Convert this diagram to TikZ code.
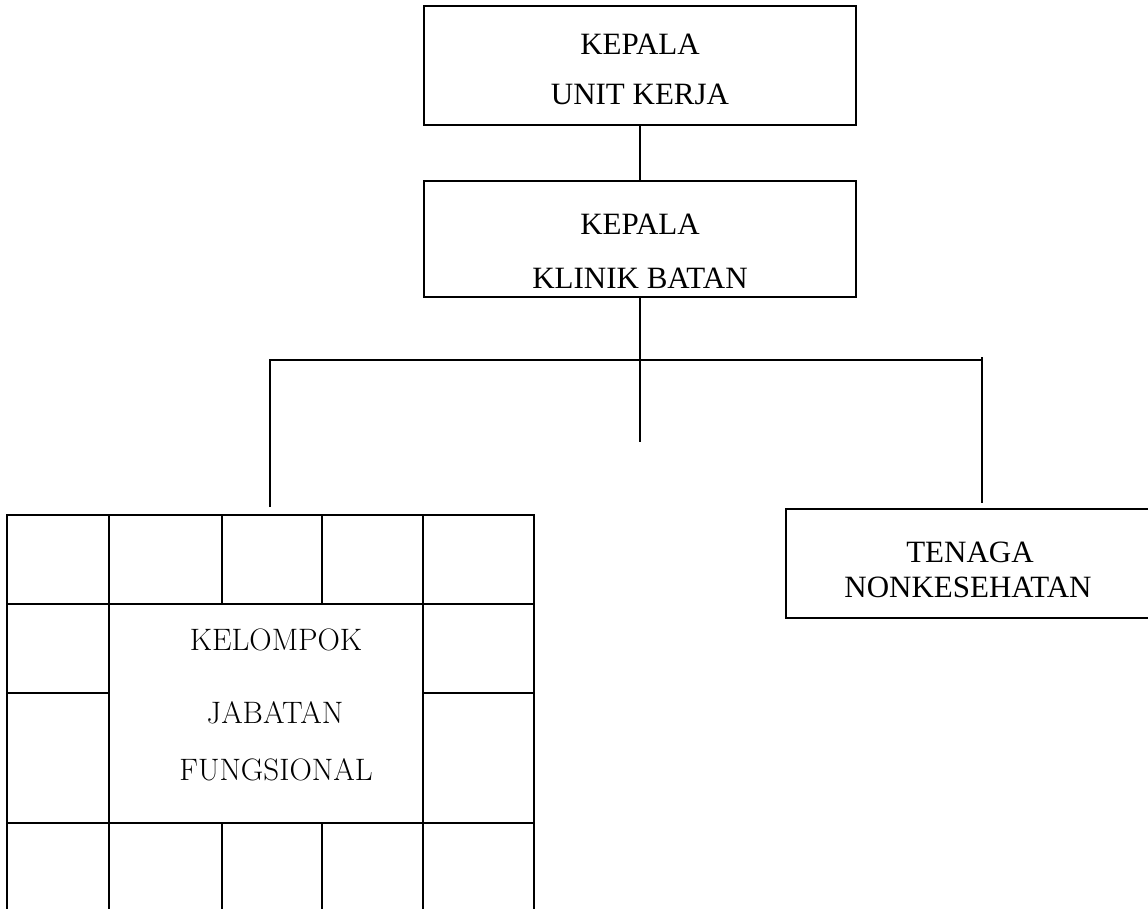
\documentclass[tikz,border=0pt]{standalone}
\usepackage{fontspec}
\newfontfamily\tnr{Liberation Serif}
\begin{document}
\begin{tikzpicture}[x=1pt,y=-1pt,
  orgbox/.style={draw, line width=1.6pt, inner sep=0pt},
  conn/.style={line width=1.6pt},
  gridline/.style={line width=2.4pt},
  lbl/.style={font=\tnr\fontsize{31}{36}\selectfont, anchor=base, inner sep=0pt},
  glbl/.style={font=\fontsize{31}{36}\selectfont, anchor=base, inner sep=0pt}]
\useasboundingbox (0,0) rectangle (1148,909);
% top boxes
\node[orgbox, minimum width=432pt, minimum height=119pt] (kuk) at (640,65.5) {};
\node[lbl] (kuk1) at (640,55) {KEPALA};
\node[lbl] (kuk2) at (640,105) {UNIT KERJA};
\node[orgbox, minimum width=432pt, minimum height=116pt] (kkb) at (640,239) {};
\node[lbl] (kkb1) at (640,235) {KEPALA};
\node[lbl] (kkb2) at (640,288) {KLINIK BATAN};
% right box
\node[orgbox, minimum width=364pt, minimum height=109pt] (tnk) at (968,563.5) {};
\node[lbl] (tnk1) at (970,562) {TENAGA};
\node[lbl] (tnk2) at (968,597) {NONKESEHATAN};
% grid
\node[draw, gridline, inner sep=0pt, outer sep=0pt, minimum width=527pt, minimum height=400pt] (kjf) at (270.5,715) {};
\node[inner sep=0pt, outer sep=0pt, minimum width=314pt, minimum height=219pt] (inner) at (266,713.5) {};
\draw[gridline] (kjf.west |- inner.north) -- (kjf.east |- inner.north);
\draw[gridline] (kjf.west |- inner.south) -- (kjf.east |- inner.south);
\draw[gridline] (inner.west |- kjf.north) -- (inner.west |- kjf.south);
\draw[gridline] (inner.east |- kjf.north) -- (inner.east |- kjf.south);
\draw[gridline] (222,515) -- (222,604);
\draw[gridline] (322,515) -- (322,604);
\draw[gridline] (222,823) -- (222,915);
\draw[gridline] (322,823) -- (322,915);
\draw[gridline] (kjf.west |- 0,693) -- (inner.west |- 0,693);
\draw[gridline] (inner.east |- 0,693) -- (kjf.east |- 0,693);
\node[glbl] (g1) at (276,650) {KELOMPOK};
\node[glbl] (g2) at (275,723) {JABATAN};
\node[glbl] (g3) at (276,780) {FUNGSIONAL};
% connectors
\coordinate (mend) at (640,442);
\coordinate (hl) at (270,360);
\coordinate (hr) at (982,360);
\coordinate (lend) at (270,507);
\coordinate (rtop) at (982,357);
\coordinate (rend) at (982,503);
\draw[conn] (kuk.south) -- (kkb.north);
\draw[conn] (kkb.south) -- (mend);
\draw[conn] (lend) -- (hl) -- (hr);
\draw[conn] (rtop) -- (rend);
\end{tikzpicture}
\end{document}
